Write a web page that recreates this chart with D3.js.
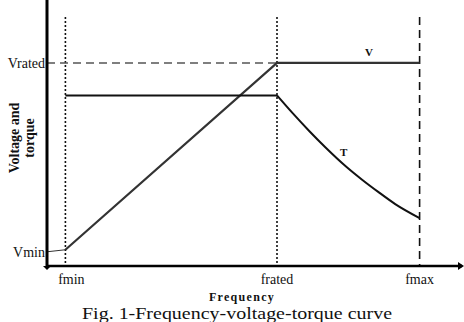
<!DOCTYPE html>
<html>
<head>
<meta charset="utf-8">
<script src="https://cdn.jsdelivr.net/npm/d3@7"></script>
<style>
  body { margin: 0; background: #fff; }
  text { font-family: "Liberation Serif", "DejaVu Serif", serif; fill: #111; }
</style>
</head>
<body>
<div id="chart"></div>
<script>
// frequency markers (Hz-like units) and their labels
const freqLabels = ["fmin", "frated", "fmax"];
const freqValues = [4, 50, 81];

// voltage curve (% of rated)
const vFreq = [4, 50, 81];
const vValues = [8, 100, 100];

// torque: constant part, then field-weakening curve (same vertical scale)
const tFlatFreq = [4, 50];
const tFlatValues = [84, 84];
const tCurveFreq = [50, 53.3, 57, 60.5, 65, 68.5, 72, 75.7, 81];
const tCurveValues = [84, 75.5, 66.5, 58.5, 49, 42.5, 36.5, 30.5, 23.6];

const voltLabels = ["Vrated", "Vmin"];
const voltValues = [100, 7];

let width = 464, height = 322;

let x = d3.scaleLinear().domain([0, 90]).range([47, 461]);
let y = d3.scaleLinear().domain([0, 131]).range([266, 0]);

let svg = d3.select("#chart")
  .append("svg")
  .attr("width", width)
  .attr("height", height);

// vertical frequency guides
svg.selectAll("line.guide")
  .data(freqValues)
  .enter().append("line")
  .attr("class", "guide")
  .attr("x1", d => x(d)).attr("x2", d => x(d))
  .attr("y1", 17).attr("y2", y(0))
  .attr("stroke", "#111")
  .attr("stroke-width", 1.6)
  .attr("stroke-dasharray", (d, i) => i == 2 ? "8,5" : "2,2");

// Vrated dashed reference
svg.append("line")
  .attr("x1", x(0)).attr("x2", x(freqValues[1]))
  .attr("y1", y(100)).attr("y2", y(100))
  .attr("stroke", "#555")
  .attr("stroke-width", 1.6)
  .attr("stroke-dasharray", "8,5");

// Vmin leader
svg.append("line")
  .attr("x1", x(0)).attr("x2", x(vFreq[0]))
  .attr("y1", y(voltValues[1])).attr("y2", y(vValues[0]))
  .attr("stroke", "#333")
  .attr("stroke-width", 1);

let line = d3.line()
  .x(d => x(d[0]))
  .y(d => y(d[1]));

svg.append("path")
  .datum(vFreq.map((f, i) => [f, vValues[i]]))
  .attr("d", line)
  .attr("fill", "none")
  .attr("stroke", "#333")
  .attr("stroke-width", 2.2);

svg.append("path")
  .datum(tFlatFreq.map((f, i) => [f, tFlatValues[i]]))
  .attr("d", line)
  .attr("fill", "none")
  .attr("stroke", "#111")
  .attr("stroke-width", 2);

svg.append("path")
  .datum(tCurveFreq.map((f, i) => [f, tCurveValues[i]]))
  .attr("d", line.curve(d3.curveMonotoneX))
  .attr("fill", "none")
  .attr("stroke", "#111")
  .attr("stroke-width", 2);

// axes
svg.append("line")
  .attr("x1", x(0)).attr("x2", x(0))
  .attr("y1", 0).attr("y2", y(0))
  .attr("stroke", "#000").attr("stroke-width", 3);
svg.append("line")
  .attr("x1", x(0)).attr("x2", 462)
  .attr("y1", y(0)).attr("y2", y(0))
  .attr("stroke", "#000").attr("stroke-width", 2.5);
svg.append("path")
  .attr("d", `M${x(0) - 4},${y(0)} L${x(0)},${y(0) + 4} L${x(0) + 4},${y(0)} Z`)
  .attr("fill", "#000");
svg.append("path")
  .attr("d", `M458,${y(0) - 4} L464,${y(0)} L458,${y(0) + 4} Z`)
  .attr("fill", "#000");

// tick labels
svg.selectAll("text.flab")
  .data(freqLabels)
  .enter().append("text")
  .attr("class", "flab")
  .attr("x", (d, i) => x(freqValues[i]) + (i == 0 ? 6 : 0))
  .attr("y", 284)
  .attr("text-anchor", "middle")
  .attr("font-size", 14)
  .text(d => d);

svg.selectAll("text.vlab")
  .data(voltLabels)
  .enter().append("text")
  .attr("class", "vlab")
  .attr("x", 45)
  .attr("y", (d, i) => y(voltValues[i]) + 5)
  .attr("text-anchor", "end")
  .attr("font-size", 14)
  .text(d => d);

// curve labels
svg.append("text")
  .attr("x", x(70)).attr("y", 56)
  .attr("text-anchor", "middle")
  .attr("font-size", 11).attr("font-weight", "bold")
  .text("V");
svg.append("text")
  .attr("x", x(64.5)).attr("y", 156)
  .attr("text-anchor", "middle")
  .attr("font-size", 11).attr("font-weight", "bold")
  .text("T");

// axis titles
svg.append("text")
  .attr("x", 242).attr("y", 301)
  .attr("text-anchor", "middle")
  .attr("font-size", 12).attr("font-weight", "bold")
  .attr("letter-spacing", 1.3)
  .text("Frequency");

let yt = svg.append("g").attr("transform", "translate(0,138) rotate(-90)");
yt.append("text")
  .attr("x", 0).attr("y", 19)
  .attr("text-anchor", "middle")
  .attr("font-size", 14).attr("font-weight", "bold")
  .text("Voltage and");
yt.append("text")
  .attr("x", 0).attr("y", 34)
  .attr("text-anchor", "middle")
  .attr("font-size", 14).attr("font-weight", "bold")
  .text("torque");

// caption
svg.append("text")
  .attr("x", 237).attr("y", 319)
  .attr("text-anchor", "middle")
  .attr("font-size", 17)
  .attr("textLength", 310)
  .attr("lengthAdjust", "spacingAndGlyphs")
  .text("Fig. 1-Frequency-voltage-torque curve");
</script>
</body>
</html>
